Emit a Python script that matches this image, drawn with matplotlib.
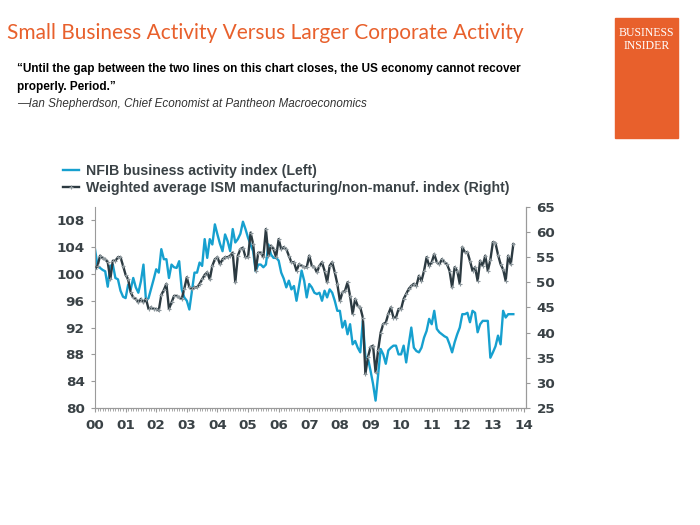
import numpy as np
import matplotlib
matplotlib.use("Agg")
import matplotlib.pyplot as plt
from matplotlib.ticker import MultipleLocator, FuncFormatter
from matplotlib.lines import Line2D

# monthly values, Jan 2000 .. Aug 2013
nfib = [
    103.7, 101.2, 100.9, 100.6, 100.4, 98.1, 101.2, 101.4, 99.4, 99.2, 97.5, 96.6,   # 2000
    96.4, 98.4, 97.7, 99.4, 98.0, 97.2, 98.9, 101.4, 96.0, 96.4, 97.8, 99.2,          # 2001
    100.7, 100.2, 103.7, 102.2, 102.2, 99.4, 101.4, 101.0, 100.9, 101.9, 97.7, 96.5,  # 2002
    96.0, 94.7, 97.5, 100.2, 100.2, 101.7, 101.2, 105.2, 102.4, 105.2, 104.4, 107.4,  # 2003
    105.9, 104.5, 103.4, 105.9, 104.9, 103.4, 106.7, 104.7, 105.2, 106.0, 107.8, 106.7,  # 2004
    105.4, 104.4, 103.4, 100.4, 101.4, 101.4, 101.0, 101.4, 104.4, 102.9, 102.4, 102.4,  # 2005
    102.0, 100.2, 99.3, 98.0, 99.0, 97.7, 98.2, 96.0, 98.2, 100.5, 99.0, 96.5,        # 2006
    98.5, 98.0, 97.2, 97.0, 97.2, 96.0, 97.5, 96.5, 97.7, 97.2, 96.0, 94.5,           # 2007
    94.5, 92.0, 93.0, 91.0, 92.5, 89.5, 90.0, 89.0, 88.3, 93.0, 87.6, 87.4,           # 2008
    85.6, 83.6, 81.1, 85.0, 88.8, 88.0, 86.6, 88.6, 89.0, 89.3, 89.3, 88.0,           # 2009
    88.0, 89.3, 86.8, 89.5, 92.0, 89.0, 88.5, 88.3, 89.0, 90.5, 91.5, 93.3,           # 2010
    92.5, 94.5, 91.8, 91.3, 91.0, 90.7, 90.5, 89.5, 88.3, 89.8, 91.0, 92.0,           # 2011
    94.0, 94.0, 94.2, 92.8, 94.5, 94.2, 91.3, 92.5, 93.0, 93.0, 93.0, 87.5,           # 2012
    88.3, 89.2, 90.8, 89.5, 94.5, 93.5, 94.0, 94.0, 94.0,                             # 2013
]

ism = [
    52.6, 53.3, 55.3, 54.8, 54.6, 54.0, 50.6, 54.3, 54.3, 55.0, 55.0, 53.3,   # 2000
    51.5, 50.6, 48.0, 47.0, 46.7, 46.0, 46.7, 46.0, 46.7, 44.7, 45.0, 44.7,   # 2001
    44.7, 44.4, 47.5, 48.5, 49.7, 44.7, 46.0, 47.3, 47.3, 47.0, 46.7, 48.7,   # 2002
    51.0, 49.0, 48.7, 49.0, 49.0, 49.7, 50.6, 51.5, 52.0, 50.6, 53.3, 54.6,   # 2003
    55.0, 53.6, 54.6, 55.0, 55.0, 55.3, 55.9, 50.0, 55.3, 56.6, 56.9, 55.0,   # 2004
    55.0, 59.9, 57.6, 52.3, 55.9, 55.9, 55.0, 60.6, 55.3, 57.3, 56.6, 55.0,   # 2005
    58.6, 56.6, 57.0, 56.6, 55.3, 54.0, 54.0, 52.3, 53.6, 53.3, 53.0, 53.0,   # 2006
    55.3, 53.3, 53.0, 52.0, 53.3, 54.0, 52.3, 50.0, 53.3, 54.0, 52.0, 49.7,   # 2007
    46.3, 48.0, 48.3, 50.0, 47.3, 43.7, 46.7, 45.3, 45.0, 43.0, 31.8, 35.1,   # 2008
    37.1, 37.4, 32.1, 36.5, 40.0, 41.7, 42.0, 43.7, 45.0, 43.0, 43.0, 44.7,   # 2009
    44.7, 46.7, 47.7, 48.7, 49.3, 49.7, 49.3, 51.3, 50.3, 52.3, 55.0, 53.3,   # 2010
    54.0, 55.6, 54.0, 53.6, 54.6, 54.0, 53.6, 52.3, 49.0, 53.0, 52.3, 49.7,   # 2011
    57.0, 56.0, 56.0, 54.3, 52.3, 53.0, 50.3, 54.3, 53.3, 55.3, 52.3, 54.5,   # 2012
    58.0, 57.8, 55.5, 53.6, 52.6, 50.3, 55.3, 53.6, 57.6,                     # 2013
]

years = np.arange(len(ism)) / 12.0   # years since 2000
year_labels = ["%02d" % y for y in range(15)]

blue = "#16a0cf"
dark = "#2c3a41"
txt = "#3a4246"
orange = "#e8602c"

fig = plt.figure(figsize=(7, 5.25), dpi=100)

# header
fig.text(0.01, 0.938, "Small Business Activity Versus Larger Corporate Activity",
         color=orange, fontsize=15, family="Lato", va="center")
fig.text(0.024, 0.868, "\u201cUntil the gap between the two lines on this chart closes, the US economy cannot recover",
         fontsize=8.5, weight="bold", family="Liberation Sans", va="center")
fig.text(0.024, 0.834, "properly. Period.\u201d",
         fontsize=8.5, weight="bold", family="Liberation Sans", va="center")
fig.text(0.024, 0.801, "\u2014Ian Shepherdson, Chief Economist at Pantheon Macroeconomics",
         fontsize=8.4, style="italic", family="Liberation Sans", color="#333333", va="center")

# logo box
fig.patches.append(plt.Rectangle((0.879, 0.737), 0.090, 0.229, transform=fig.transFigure,
                                 color="#e8602c", zorder=0))
fig.text(0.924, 0.924, "BUSINESS\nINSIDER", color="white", fontsize=8.5, family="Liberation Serif",
         ha="center", va="center", linespacing=1.1)

ax = fig.add_axes([0.1357, 0.2229, 0.6157, 0.3829])
ax2 = ax.twinx()

ax.plot(years, nfib, color=blue, lw=1.7, zorder=2)
ax2.plot(years, ism, color=dark, lw=1.7, marker="+", ms=3.5, mew=0.8, mec="#8d979c", zorder=3)

ax.set_xlim(0, 14.08)
ax.set_ylim(80, 110)
ax2.set_ylim(25, 65)
ax.set_yticks(np.arange(80, 109, 4))
ax2.set_yticks(np.arange(25, 66, 5))
ax.xaxis.set_major_locator(MultipleLocator(1))
ax.xaxis.set_minor_locator(MultipleLocator(1 / 12))
ax.xaxis.set_major_formatter(FuncFormatter(lambda v, p: year_labels[int(round(v))] if 0 <= round(v) < 15 else ""))

for a in (ax, ax2):
    a.spines["top"].set_visible(False)
    for s in a.spines.values():
        s.set_color("#9a9a9a")
        s.set_linewidth(0.8)
    a.tick_params(colors="#9a9a9a", labelcolor=txt, labelsize=9.7, width=0.8, length=3, pad=4.5)
    for lab in a.get_xticklabels() + a.get_yticklabels():
        lab.set_fontweight("bold")
        lab.set_family("DejaVu Sans")
ax.tick_params(axis="x", which="minor", length=2, width=0.6, colors="#9a9a9a")
ax.tick_params(axis="x", which="major", length=3, pad=5)
ax2.spines["left"].set_visible(False)

handles = [Line2D([], [], color=blue, lw=1.7),
           Line2D([], [], color=dark, lw=1.7, marker="+", ms=3.5, mew=0.8, mec="#8d979c")]
leg = fig.legend(handles, ["NFIB business activity index (Left)",
                           "Weighted average ISM manufacturing/non-manuf. index (Right)"],
                 loc="upper left", bbox_to_anchor=(0.072, 0.712), frameon=False,
                 handlelength=1.1, handletextpad=0.5, labelspacing=0.22,
                 prop={"family": "Liberation Sans", "size": 10.2, "weight": "bold"})
for t in leg.get_texts():
    t.set_color(txt)

fig.savefig("out.png", dpi=100)
